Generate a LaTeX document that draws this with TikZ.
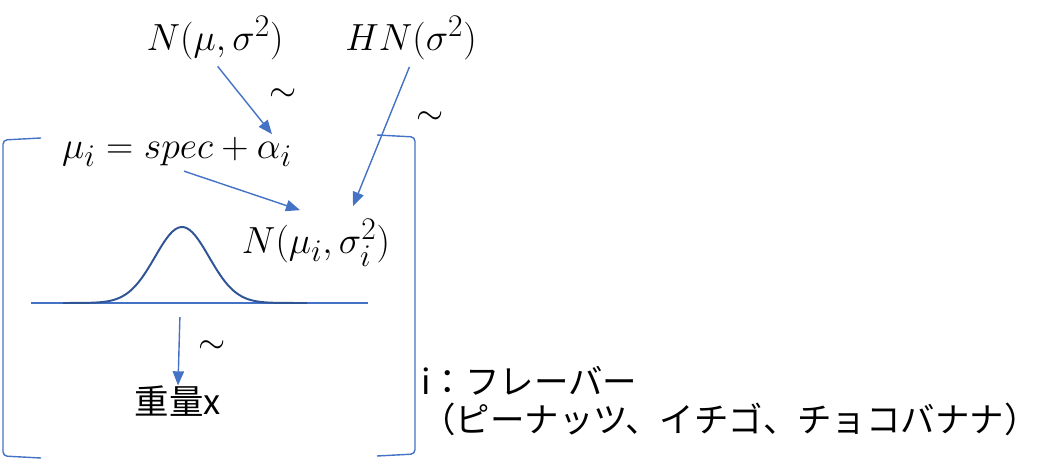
\documentclass[tikz,border=0pt]{standalone}
\usepackage{fontspec}
\usepackage{amsmath}
\usepackage{tikz}
\usetikzlibrary{arrows.meta}
\usetikzlibrary{calc}
\newfontfamily\jpfont{Noto Sans CJK JP}
\definecolor{officeblue}{HTML}{4472C4}
\definecolor{curveblue}{HTML}{2F5597}

\begin{document}
\begin{tikzpicture}[x=0.025cm, y=-0.025cm,
        >={Triangle[length=10pt,width=8pt]},
        link/.style={->, line width=1pt, color=officeblue, shorten <=3pt},
        bracket/.style={line width=1pt, color=officeblue, rounded corners=3pt},
        formula/.style={font=\Huge, inner sep=2pt, scale=1.08, transform shape},
        twiddle/.style={font=\Huge, inner sep=0pt},
        jptext/.style={font=\jpfont\fontsize{24.5}{26.5}\selectfont, inner sep=0pt}]
                \useasboundingbox (0,0) rectangle (1039,464);
                % priors
                \node[formula] (prior) at (215,38) {$N(\mu,\sigma^2)$};
                \node[formula] (hn) at (411,38) {$HN(\sigma^2)$};
                \node[formula] (mui) at (177,152) {$\mu_i = spec + \alpha_i$};
                \node[formula] (ni) at (316,243) {$N(\mu_i,\sigma_i^2)$};
                \node[jptext] (wt) at (178,401) {重量x};
                \node[jptext, anchor=west, align=left] (flv) at (421,401) {i：フレーバー\\（ピーナッツ、イチゴ、チョコバナナ）};
                % tildes
                \node[twiddle] (t1) at (283,95) {$\sim$};
                \node[twiddle] (t2) at (430,118) {$\sim$};
                \node[twiddle] (t3) at (212,347) {$\sim$};
                % arrows
                \draw[link] (prior.south) -- ($(mui.north)+(95,0)$);
                \draw[link] (hn.south) -- ($(ni.north)+(37,-10)$);
                \draw[link] ($(mui.south)+(3,0)$) -- ($(ni.north)+(-16,-6)$);
                \coordinate (drop) at (180,313);
                \draw[link] (drop) -- (wt.north);
                % distribution
                \draw[line width=1pt, color=officeblue] (31,303) -- (368,303);
                \draw[line width=1.4pt, color=curveblue] plot[domain=63:307, samples=90, smooth] (\x, {303-76*exp(-0.5*((\x-182)/27)^2)});
                % plate
                \draw[bracket] (41,138) -- (3,140) -- (3,456) -- (41,458);
                \draw[bracket] (377,135) -- (415,137) -- (415,454) -- (377,456);
\end{tikzpicture}
\end{document}
